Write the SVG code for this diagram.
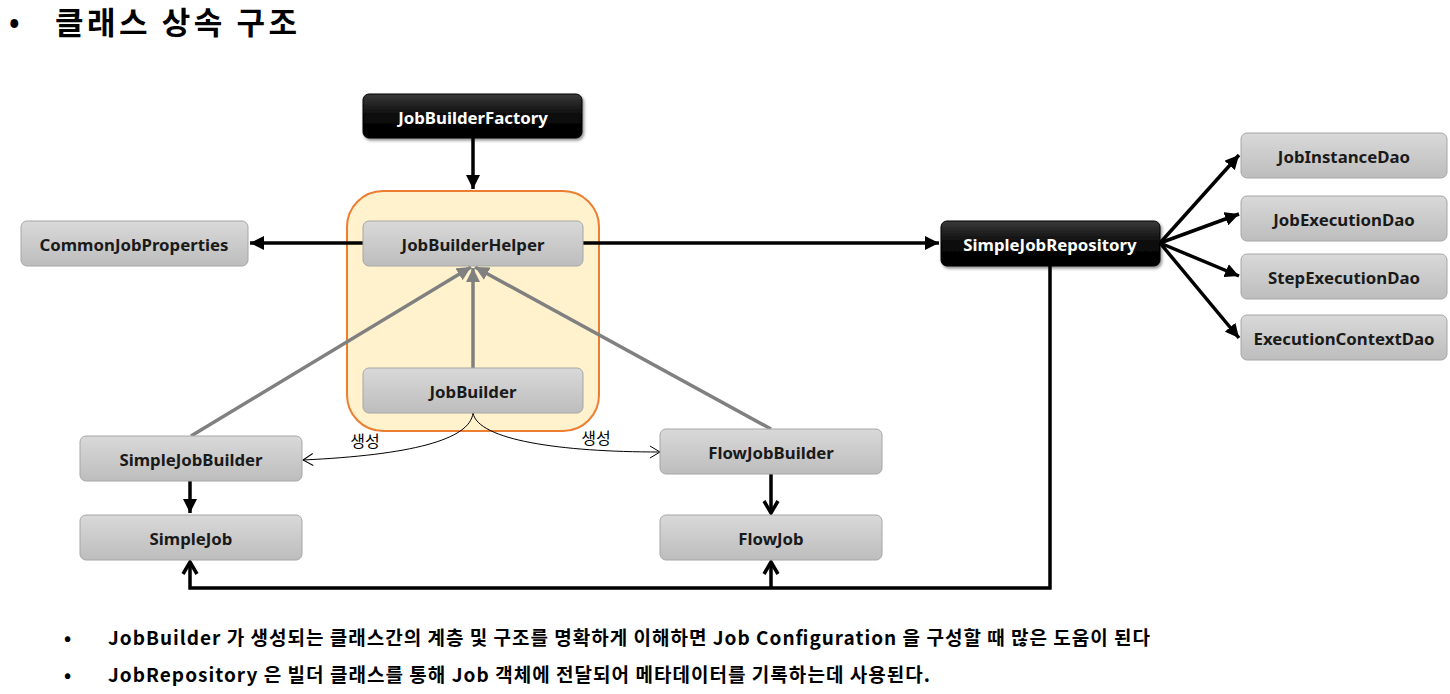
<svg xmlns="http://www.w3.org/2000/svg" width="1450" height="694" viewBox="0 0 1450 694">
<style>
.t{font-family:"Noto Sans","Noto Sans CJK KR",sans-serif;font-weight:bold;font-size:16.8px;text-anchor:middle;dominant-baseline:central}
.g{fill:url(#gg);stroke:#a6a6a6;stroke-width:1}
.b{fill:url(#gb);stroke:#000;stroke-width:1;filter:url(#sh)}
.gt{fill:#1a1a1a}
.bt{fill:#fff}
.k{fill:none;stroke:#000;stroke-width:3.5}
.gr{fill:none;stroke:#808080;stroke-width:3.5}
.th{fill:none;stroke:#000;stroke-width:1}
.ko{font-family:"Noto Sans CJK KR",sans-serif;font-weight:bold}
.lb{font-family:"Noto Sans CJK KR",sans-serif;font-size:16px;text-anchor:middle}
</style>
<defs>
<linearGradient id="gg" x1="0" y1="0" x2="0" y2="1"><stop offset="0" stop-color="#d9d9d9"/><stop offset="1" stop-color="#bdbdbd"/></linearGradient>
<linearGradient id="gb" x1="0" y1="0" x2="0" y2="1"><stop offset="0" stop-color="#3a3a3a"/><stop offset="0.5" stop-color="#0a0a0a"/><stop offset="1" stop-color="#000"/></linearGradient>
<filter id="sh" x="-10%" y="-20%" width="130%" height="160%"><feDropShadow dx="1.5" dy="2" stdDeviation="1.5" flood-opacity="0.45"/></filter>
<marker id="af" markerUnits="userSpaceOnUse" markerWidth="16" markerHeight="14" refX="14" refY="7" orient="auto"><path d="M0,0 L14,7 L0,14 Z" fill="#000"/></marker>
<marker id="av" markerUnits="userSpaceOnUse" markerWidth="18" markerHeight="18" refX="15" refY="9" orient="auto"><path d="M3,2 L15,9 L3,16" fill="none" stroke="#000" stroke-width="3.5"/></marker>
<marker id="ag" markerUnits="userSpaceOnUse" markerWidth="16" markerHeight="14" refX="14" refY="7" orient="auto"><path d="M0,0 L14,7 L0,14 Z" fill="#808080"/></marker>
<marker id="at" markerUnits="userSpaceOnUse" markerWidth="14" markerHeight="14" refX="12" refY="7" orient="auto"><path d="M2,1 L12,7 L2,13" fill="none" stroke="#000" stroke-width="1"/></marker>
</defs>
<rect width="1450" height="694" fill="#fff"/>
<text x="9" y="34" font-family="Noto Sans, sans-serif" font-size="28" font-weight="bold">•</text>
<text x="55" y="34" class="ko" font-size="31" textLength="242" lengthAdjust="spacing">클래스 상속 구조</text>

<g id="container"><rect x="347" y="191" width="252" height="240" rx="36" fill="#fff2cc" stroke="#ed7d31" stroke-width="2"/></g>

<g id="connectors">
<path class="k" d="M473,138 V189" marker-end="url(#af)"/>
<path class="k" d="M363,243 H250" marker-end="url(#af)"/>
<path class="k" d="M583,243 H939" marker-end="url(#af)"/>
<path class="k" d="M1160,243 L1239,155" marker-end="url(#af)"/>
<path class="k" d="M1160,243 L1239,214" marker-end="url(#af)"/>
<path class="k" d="M1160,243 L1239,276" marker-end="url(#af)"/>
<path class="k" d="M1160,243 L1239,338" marker-end="url(#af)"/>
<path class="k" d="M1050,266 V588 H190 V562" marker-end="url(#av)"/>
<path class="k" d="M771,588 V562" marker-end="url(#av)"/>
<path class="k" d="M190,481 V513" marker-end="url(#af)"/>
<path class="k" d="M771,474 V513" marker-end="url(#av)"/>
<path class="gr" d="M473,368 V268" marker-end="url(#ag)"/>
<path class="gr" d="M191,436 L471,267" marker-end="url(#ag)"/>
<path class="gr" d="M771,429 L475,267" marker-end="url(#ag)"/>
<path class="th" d="M473,413 C470,440 410,455 303,460" marker-end="url(#at)"/>
<path class="th" d="M473,413 C478,440 560,452 660,452" marker-end="url(#at)"/>
<text x="365" y="447" class="lb">생성</text>
<text x="596" y="444" class="lb">생성</text>
</g>

<g id="JobBuilderFactory"><rect class="b" x="363" y="94" width="219" height="44" rx="6"/><text class="t bt" x="473" y="117">JobBuilderFactory</text></g>
<g id="JobBuilderHelper"><rect class="g" x="363" y="221" width="220" height="45" rx="6"/><text class="t gt" x="473" y="244">JobBuilderHelper</text></g>
<g id="JobBuilder"><rect class="g" x="363" y="368" width="220" height="45" rx="6"/><text class="t gt" x="473" y="391">JobBuilder</text></g>
<g id="CommonJobProperties"><rect class="g" x="21" y="221" width="227" height="45" rx="6"/><text class="t gt" x="134" y="244">CommonJobProperties</text></g>
<g id="SimpleJobRepository"><rect class="b" x="941" y="221" width="219" height="45" rx="6"/><text class="t bt" x="1050" y="244">SimpleJobRepository</text></g>
<g id="JobInstanceDao"><rect class="g" x="1241" y="133" width="206" height="45" rx="6"/><text class="t gt" x="1344" y="156">JobInstanceDao</text></g>
<g id="JobExecutionDao"><rect class="g" x="1241" y="196" width="206" height="45" rx="6"/><text class="t gt" x="1344" y="219">JobExecutionDao</text></g>
<g id="StepExecutionDao"><rect class="g" x="1241" y="254" width="206" height="45" rx="6"/><text class="t gt" x="1344" y="277">StepExecutionDao</text></g>
<g id="ExecutionContextDao"><rect class="g" x="1241" y="315" width="206" height="45" rx="6"/><text class="t gt" x="1344" y="338">ExecutionContextDao</text></g>
<g id="SimpleJobBuilder"><rect class="g" x="80" y="436" width="222" height="45" rx="6"/><text class="t gt" x="191" y="459">SimpleJobBuilder</text></g>
<g id="SimpleJob"><rect class="g" x="80" y="515" width="222" height="45" rx="6"/><text class="t gt" x="191" y="538">SimpleJob</text></g>
<g id="FlowJobBuilder"><rect class="g" x="660" y="429" width="222" height="45" rx="6"/><text class="t gt" x="771" y="452">FlowJobBuilder</text></g>
<g id="FlowJob"><rect class="g" x="660" y="515" width="222" height="45" rx="6"/><text class="t gt" x="771" y="538">FlowJob</text></g>

<g id="notes" class="ko" font-size="19">
<text x="64" y="645">•</text>
<text x="108" y="645" textLength="1042" lengthAdjust="spacing">JobBuilder 가 생성되는 클래스간의 계층 및 구조를 명확하게 이해하면 Job Configuration 을 구성할 때 많은 도움이 된다</text>
<text x="64" y="682">•</text>
<text x="108" y="682" textLength="822" lengthAdjust="spacing">JobRepository 은 빌더 클래스를 통해 Job 객체에 전달되어 메타데이터를 기록하는데 사용된다.</text>
</g>
</svg>
